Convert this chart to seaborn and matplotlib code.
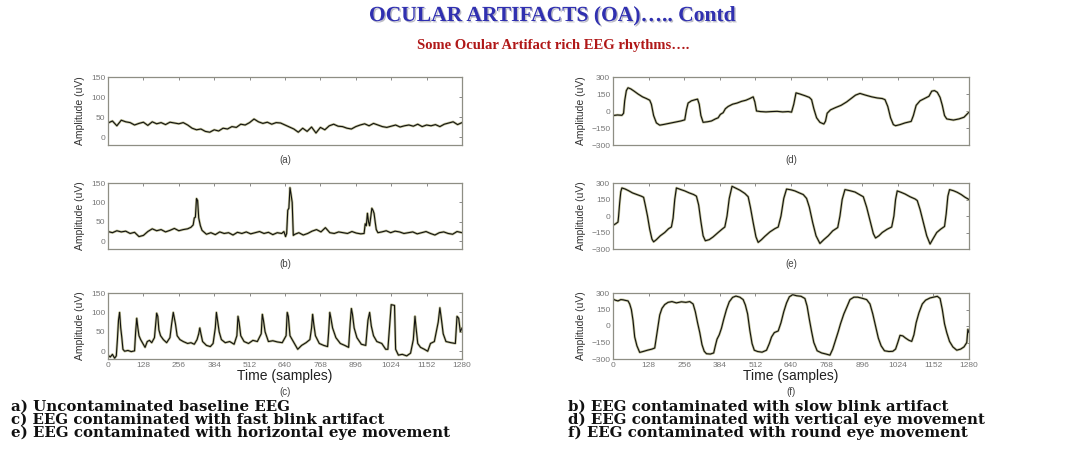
import matplotlib
matplotlib.use("Agg")
import matplotlib.pyplot as plt
import matplotlib.patheffects as pe
import pandas as pd
import seaborn as sns

# samples (time index) and amplitude (uV)
t_a = list(range(0, 1281, 16))
v_a = [35, 40, 28, 42, 38, 36, 30, 34, 37, 29, 38, 33, 36, 31, 37, 35, 33, 36, 30, 22,
       18, 20, 14, 12, 18, 15, 22, 20, 26, 24, 32, 30, 36, 45, 38, 34, 37, 32, 36, 35,
       30, 25, 20, 12, 22, 14, 25, 10, 24, 18, 28, 32, 27, 26, 22, 20, 26, 30, 33, 28,
       34, 30, 26, 24, 27, 30, 25, 28, 30, 27, 32, 26, 30, 28, 31, 26, 32, 35, 38, 31, 36]

pts_b = [(0, 25), (16, 22), (32, 27), (48, 24), (64, 26), (80, 20), (96, 23), (112, 12), (128, 15),
         (144, 25), (160, 32), (176, 27), (192, 30), (208, 24), (224, 28), (240, 33), (256, 27),
         (272, 30), (288, 32), (300, 36), (308, 42), (312, 60), (316, 62), (320, 110), (324, 105),
         (328, 60), (334, 40), (340, 28), (356, 18), (372, 22), (388, 17), (404, 24), (420, 20),
         (436, 22), (452, 16), (468, 23), (484, 20), (500, 24), (516, 19), (532, 22), (548, 25),
         (564, 20), (580, 23), (596, 17), (612, 22), (628, 20), (636, 25), (642, 12), (646, 20),
         (650, 80), (654, 85), (658, 138), (662, 120), (666, 100), (670, 15), (676, 18), (690, 22),
         (706, 16), (722, 20), (738, 26), (754, 30), (770, 24), (786, 35), (802, 22), (818, 20),
         (834, 24), (850, 22), (866, 20), (882, 25), (898, 21), (914, 19), (926, 20), (930, 45),
         (934, 40), (938, 72), (942, 50), (946, 40), (950, 62), (954, 85), (958, 80), (962, 72),
         (966, 50), (970, 30), (976, 22), (990, 24), (1006, 27), (1022, 22), (1038, 26), (1054, 24),
         (1070, 20), (1086, 22), (1102, 24), (1118, 19), (1134, 22), (1150, 25), (1166, 20),
         (1182, 16), (1198, 22), (1214, 24), (1230, 20), (1246, 18), (1262, 25), (1280, 22)]

pts_c = [(0, -10), (8, -15), (16, -8), (24, -18), (30, -12), (34, 30), (38, 80), (42, 100), (46, 60),
         (50, 35), (54, 5), (60, 0), (72, 2), (84, -1), (96, 1), (100, 50), (104, 85), (108, 60),
         (112, 40), (118, 30), (126, 20), (134, 10), (142, 25), (150, 28), (158, 22), (168, 35),
         (172, 65), (176, 98), (180, 90), (184, 55), (190, 40), (200, 30), (212, 22), (224, 35),
         (230, 70), (236, 100), (240, 85), (244, 70), (250, 40), (260, 30), (272, 25), (288, 20),
         (300, 22), (312, 18), (322, 30), (328, 45), (332, 60), (336, 45), (342, 25), (356, 15),
         (370, 12), (380, 20), (388, 60), (392, 100), (396, 80), (402, 50), (410, 30), (424, 22),
         (440, 25), (456, 18), (466, 40), (470, 90), (474, 75), (480, 40), (492, 25), (508, 20),
         (524, 28), (540, 25), (554, 45), (558, 95), (562, 80), (568, 50), (580, 25), (596, 27),
         (612, 24), (630, 22), (644, 40), (648, 100), (652, 90), (658, 40), (670, 25), (686, 5),
         (700, 15), (716, 22), (730, 30), (736, 60), (740, 95), (744, 70), (750, 40), (764, 20),
         (780, 15), (794, 12), (798, 50), (802, 100), (806, 85), (812, 60), (824, 35), (840, 20),
         (856, 15), (870, 10), (876, 75), (880, 110), (884, 95), (890, 60), (900, 35), (916, 18),
         (932, 15), (940, 80), (946, 100), (952, 65), (960, 40), (972, 25), (990, 20), (1004, 5),
         (1012, 5), (1020, 80), (1024, 120), (1036, 118), (1040, 5), (1050, -10), (1064, -8),
         (1080, -12), (1094, -5), (1104, 30), (1110, 90), (1114, 60), (1120, 20), (1130, 10),
         (1144, 5), (1156, 0), (1166, 20), (1180, 25), (1194, 75), (1200, 112), (1206, 80),
         (1212, 45), (1222, 25), (1240, 22), (1256, 20), (1262, 90), (1268, 85), (1274, 50), (1280, 60)]

pts_d = [(0, -40), (16, -35), (32, -38), (38, -20), (42, 90), (48, 180), (54, 205), (64, 195), (76, 175),
         (90, 150), (106, 125), (120, 110), (132, 95), (138, 60), (146, -40), (156, -105), (168, -125),
         (184, -118), (204, -108), (224, -98), (244, -88), (258, -78), (264, 10), (270, 70), (282, 90),
         (296, 100), (304, 105), (310, 60), (316, -40), (324, -100), (340, -95), (354, -88), (368, -70),
         (378, -60), (386, -30), (396, -15), (404, 20), (414, 40), (430, 60), (446, 70), (462, 85),
         (478, 95), (492, 110), (504, 125), (510, 80), (516, 0), (530, -5), (550, -8), (570, -5),
         (590, -3), (610, -8), (630, -5), (642, -10), (650, 60), (658, 160), (672, 150), (690, 135),
         (706, 120), (714, 100), (722, 20), (732, -60), (744, -100), (758, -115), (764, -90),
         (770, -20), (782, 10), (800, 30), (820, 50), (840, 80), (856, 110), (872, 140), (888, 155),
         (908, 140), (930, 125), (950, 115), (968, 110), (978, 100), (988, 40), (998, -60),
         (1008, -120), (1016, -130), (1032, -120), (1050, -105), (1072, -92), (1080, -40), (1090, 50),
         (1104, 90), (1120, 110), (1136, 130), (1146, 175), (1156, 180), (1166, 165), (1176, 120),
         (1184, 50), (1192, -40), (1200, -70), (1224, -80), (1244, -70), (1262, -55), (1280, -10)]

pts_e = [(0, -85), (10, -70), (18, -55), (20, -5), (24, 120), (28, 220), (32, 255), (44, 245), (56, 230),
         (70, 210), (86, 195), (102, 180), (110, 170), (116, 100), (124, 0), (132, -120), (140, -210),
         (146, -235), (156, -215), (170, -180), (186, -150), (200, -115), (210, -100), (216, -20),
         (222, 150), (228, 255), (244, 240), (258, 228), (274, 210), (290, 195), (300, 180), (308, 100),
         (316, -50), (324, -180), (332, -225), (346, -215), (360, -190), (378, -150), (392, -120),
         (402, -100), (410, 0), (418, 160), (428, 270), (440, 255), (456, 235), (474, 205), (486, 175),
         (494, 80), (504, -60), (514, -190), (522, -240), (534, -215), (546, -185), (564, -145),
         (582, -115), (594, -100), (604, 0), (614, 160), (624, 245), (640, 238), (654, 228), (670, 210),
         (684, 195), (696, 160), (706, 80), (718, -60), (730, -180), (744, -250), (758, -215),
         (774, -180), (790, -135), (808, -105), (816, 0), (824, 150), (834, 240), (852, 230), (870, 218),
         (886, 195), (900, 175), (912, 80), (926, -60), (936, -160), (944, -200), (956, -180),
         (968, -150), (986, -120), (1002, -100), (1010, 0), (1016, 150), (1022, 228), (1036, 215),
         (1050, 200), (1068, 175), (1086, 155), (1094, 140), (1104, 60), (1116, -60), (1128, -180),
         (1140, -255), (1150, -210), (1164, -150), (1178, -120), (1192, -95), (1198, 20), (1204, 180),
         (1210, 240), (1224, 230), (1238, 215), (1252, 195), (1266, 170), (1280, 150)]

pts_f = [(0, 245), (8, 235), (18, 228), (28, 240), (36, 238), (46, 232), (54, 228), (60, 200), (66, 150),
         (72, 50), (78, -100), (86, -180), (96, -240), (108, -232), (124, -220), (140, -210), (150, -200),
         (156, -100), (162, 0), (168, 100), (176, 160), (186, 195), (198, 215), (212, 222), (228, 210),
         (246, 220), (262, 215), (276, 222), (288, 200), (296, 130), (304, 30), (312, -60), (320, -170),
         (328, -230), (336, -252), (350, -255), (362, -245), (368, -180), (374, -120), (382, -80),
         (390, -20), (398, 60), (408, 150), (418, 220), (430, 260), (442, 272), (456, 262), (468, 240),
         (476, 190), (484, 110), (492, -40), (500, -160), (508, -220), (520, -232), (536, -238),
         (552, -220), (562, -160), (570, -100), (580, -60), (594, -45), (604, 30), (614, 130),
         (624, 210), (634, 265), (646, 285), (660, 275), (676, 270), (690, 250), (698, 180), (706, 60),
         (714, -50), (722, -150), (734, -225), (750, -245), (766, -255), (780, -265), (790, -210),
         (800, -130), (810, -50), (818, 20), (830, 110), (842, 180), (852, 240), (866, 262), (880, 262),
         (896, 252), (912, 240), (924, 200), (934, 110), (944, 0), (954, -110), (964, -180), (976, -225),
         (992, -232), (1006, -230), (1016, -210), (1024, -150), (1032, -85), (1042, -90), (1052, -110),
         (1064, -130), (1074, -140), (1082, -80), (1090, 30), (1100, 120), (1112, 200), (1124, 235),
         (1140, 255), (1152, 262), (1166, 270), (1176, 250), (1184, 150), (1192, 20), (1200, -60),
         (1210, -140), (1222, -190), (1236, -220), (1250, -210), (1262, -190), (1272, -150), (1276, -30),
         (1280, -60)]

x_ticks = [0, 128, 256, 384, 512, 640, 768, 896, 1024, 1152, 1280]
left_yticks = [0, 50, 100, 150]
right_yticks = [-300, -150, 0, 150, 300]
panel_tags = ["(a)", "(b)", "(c)", "(d)", "(e)", "(f)"]
captions_left = [
    "a) Uncontaminated baseline EEG",
    "c) EEG contaminated with fast blink artifact",
    "e) EEG contaminated with horizontal eye movement",
]
captions_right = [
    "b) EEG contaminated with slow blink artifact",
    "d) EEG contaminated with vertical eye movement",
    "f) EEG contaminated with round eye movement",
]

sns.set_theme(style="white")
plt.rcParams["font.family"] = ["Liberation Sans", "DejaVu Sans"]

W, H = 1089, 453
fig = plt.figure(figsize=(W / 100, H / 100), dpi=100)
fig.patch.set_facecolor("white")


def rect(x0, x1, y0, y1):
    return [x0 / W, 1 - y1 / H, (x1 - x0) / W, (y1 - y0) / H]


data = [pd.DataFrame({"t": t_a, "v": v_a}),
        pd.DataFrame(pts_b, columns=["t", "v"]),
        pd.DataFrame(pts_c, columns=["t", "v"]),
        pd.DataFrame(pts_d, columns=["t", "v"]),
        pd.DataFrame(pts_e, columns=["t", "v"]),
        pd.DataFrame(pts_f, columns=["t", "v"])]

rows = [(77, 145), (183, 249), (293, 359)]
cols = [(108, 462), (613, 969)]

for i, df in enumerate(data):
    col, row = divmod(i, 3)
    x0, x1 = cols[col]
    y0, y1 = rows[row]
    ax = fig.add_axes(rect(x0, x1, y0, y1))
    sns.lineplot(data=df, x="t", y="v", ax=ax, color="#c2c29a", lw=1.8)
    sns.lineplot(data=df, x="t", y="v", ax=ax, color="#121210", lw=0.8)
    ax.set_xlim(0, 1280)
    if col == 0:
        ax.set_ylim(-20, 150)
        ax.set_yticks(left_yticks)
    else:
        ax.set_ylim(-300, 300)
        ax.set_yticks(right_yticks)
    ax.set_xticks(x_ticks)
    ax.tick_params(direction="in", length=2, width=0.6, colors="#777777",
                   labelsize=6, top=True, right=True, pad=2)
    for s in ax.spines.values():
        s.set_color("#8e8e84")
        s.set_linewidth(0.9)
    ax.set_ylabel("Amplitude (uV)", fontsize=7.5, color="#333333", labelpad=4)
    if row == 2:
        ax.set_xlabel("Time (samples)", fontsize=10, color="#222222", labelpad=0)
        tag_y = 392
    else:
        ax.set_xticklabels([])
        ax.set_xlabel("")
        tag_y = y1 + 15
    fig.text((x0 + x1) / 2 / W, 1 - tag_y / H, panel_tags[i], ha="center", va="center",
             fontsize=7, color="#444444")

fig.text(552 / W, 1 - 16 / H, "OCULAR ARTIFACTS (OA)….. Contd", ha="center", va="center",
         fontsize=15.5, fontweight="bold", color="#3030b0",
         family=["Liberation Serif", "DejaVu Serif"],
         path_effects=[pe.SimplePatchShadow(offset=(1, -1), shadow_rgbFace="#9090a0", alpha=0.6),
                       pe.Normal()])
fig.text(553 / W, 1 - 45 / H, "Some Ocular Artifact rich EEG rhythms….", ha="center", va="center",
         fontsize=10.5, fontweight="bold", color="#b01818",
         family=["Liberation Serif", "DejaVu Serif"])

# caption block, one text per column, lines about 14 px apart
cap_font = dict(fontsize=10.8, fontweight="bold", color="#111111", family=["DejaVu Serif"],
                ha="left", va="center", linespacing=0.9)
fig.text(11 / W, 1 - 420 / H, "\n".join(captions_left), **cap_font)
fig.text(568 / W, 1 - 420 / H, "\n".join(captions_right), **cap_font)

fig.savefig("out.png", dpi=100, facecolor="white")
